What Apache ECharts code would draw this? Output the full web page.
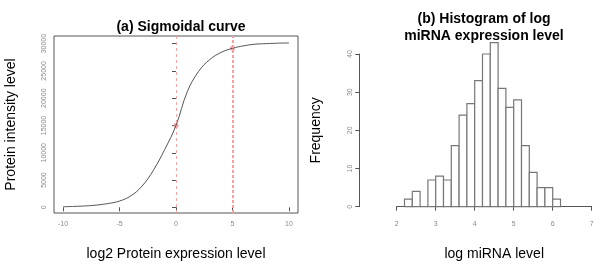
<!DOCTYPE html>
<html>
<head>
<meta charset="utf-8">
<script src="https://cdn.jsdelivr.net/npm/echarts@6/dist/echarts.min.js"></script>
<style>
  html, body { margin: 0; padding: 0; background: #fff; }
  #chart { width: 600px; height: 268px; }
</style>
</head>
<body>
<div id="chart"></div>
<script>
// (a) sigmoid curve
var sigX = [-10, -9, -8, -7, -6, -5, -4, -3, -2, -1, 0, 1, 2, 3, 4, 5, 6, 7, 8, 9, 10];
var sigY = [100, 170, 260, 420, 700, 1150, 2100, 3900, 6800, 10600, 15000, 21200, 24900, 27100, 28400, 29150, 29600, 29900, 30000, 30080, 30130];
var markX = [0, 5];
var markY = [15000, 29150];
var sigXTicks = [-10, -5, 0, 5, 10];
var sigYTicks = [0, 5000, 10000, 15000, 20000, 25000, 30000];

// (b) histogram, bins of width 0.2
var binStart = [2.2, 2.4, 2.6, 2.8, 3.0, 3.2, 3.4, 3.6, 3.8, 4.0, 4.2, 4.4, 4.6, 4.8, 5.0, 5.2, 5.4, 5.6, 5.8, 6.0];
var binCount = [2, 4, 0, 7, 8, 7, 16, 24, 27, 33, 40, 43, 31, 26, 28, 16, 9, 5, 5, 2];
var binWidth = 0.2;

var tickLabel = { color: '#8a8a8a', fontSize: 7, fontFamily: 'Liberation Sans, Arial, sans-serif' };
var titleFont = 'Liberation Sans, Arial, sans-serif';

var myChart = echarts.init(document.getElementById('chart'));

var sigData = sigX.map(function (x, i) { return [x, sigY[i]]; });
var markData = markX.map(function (x, i) { return [x, markY[i]]; });
var histData = binStart.map(function (x, i) { return [x, x + binWidth, binCount[i]]; });

option = {
  animation: false,
  backgroundColor: '#fff',
  title: [
    {
      text: '(a) Sigmoidal curve',
      left: 176, top: 15, textAlign: 'center',
      textStyle: { fontSize: 14, fontWeight: 'bold', color: '#000', fontFamily: titleFont }
    },
    {
      text: '(b) Histogram of log\nmiRNA expression level',
      left: 479, top: 6, textAlign: 'center',
      textStyle: { fontSize: 14, fontWeight: 'bold', color: '#000', fontFamily: titleFont, lineHeight: 17 }
    }
  ],
  grid: [
    { left: 54, right: 302, top: 36, bottom: 55, show: true, borderColor: '#555', borderWidth: 1, backgroundColor: 'transparent' },
    { left: 396.7, right: 8.3, top: 54, bottom: 61.3 }
  ],
  xAxis: [
    {
      gridIndex: 0, type: 'value', min: -10.8, max: 10.8,
      name: 'log2 Protein expression level', nameLocation: 'middle', nameGap: 34,
      nameTextStyle: { fontSize: 14, color: '#000', fontFamily: titleFont },
      axisLine: { show: false },
      axisTick: { show: true, length: 4, lineStyle: { color: '#555' }, customValues: sigXTicks },
      axisLabel: Object.assign({ margin: 8, customValues: sigXTicks }, tickLabel),
      splitLine: { show: false }
    },
    {
      gridIndex: 1, type: 'value', min: 2, max: 7, interval: 1, offset: 6.3,
      name: 'log miRNA level', nameLocation: 'middle', nameGap: 34,
      nameTextStyle: { fontSize: 14, color: '#000', fontFamily: titleFont },
      axisLine: { show: true, lineStyle: { color: '#555' } },
      axisTick: { show: true, length: 4, lineStyle: { color: '#555' } },
      axisLabel: Object.assign({ margin: 8 }, tickLabel),
      splitLine: { show: false }
    }
  ],
  yAxis: [
    {
      gridIndex: 0, type: 'value', min: -1040, max: 31400,
      name: 'Protein intensity level', nameLocation: 'middle', nameGap: 36,
      nameTextStyle: { fontSize: 14, color: '#000', fontFamily: titleFont },
      axisLine: { show: false },
      axisTick: { show: true, length: 4, lineStyle: { color: '#555' }, customValues: sigYTicks },
      axisLabel: Object.assign({ margin: 6, rotate: 90, customValues: sigYTicks,
        formatter: function (v) { return String(v); } }, tickLabel),
      splitLine: { show: false }
    },
    {
      gridIndex: 1, type: 'value', min: 0, max: 40, interval: 10, offset: 37.4,
      name: 'Frequency', nameLocation: 'middle', nameGap: 36,
      nameTextStyle: { fontSize: 14, color: '#000', fontFamily: titleFont },
      axisLine: { show: true, lineStyle: { color: '#555' } },
      axisTick: { show: true, length: 4, lineStyle: { color: '#555' } },
      axisLabel: Object.assign({ margin: 6, rotate: 90 }, tickLabel),
      splitLine: { show: false }
    }
  ],
  series: [
    {
      type: 'line', xAxisIndex: 0, yAxisIndex: 0,
      data: sigData, smooth: 0.4, showSymbol: false,
      lineStyle: { color: '#555', width: 1 },
      markLine: {
        silent: true, symbol: 'none', label: { show: false },
        data: [
          { xAxis: markX[0], lineStyle: { color: '#f4a6a6', width: 1, type: [3, 3] } },
          { xAxis: markX[1], lineStyle: { color: '#f4a0a0', width: 2, type: [3, 2] } }
        ]
      }
    },
    {
      type: 'scatter', xAxisIndex: 0, yAxisIndex: 0,
      data: markData, symbol: 'circle', symbolSize: 5,
      itemStyle: { color: '#f29090' }
    },
    {
      type: 'custom', xAxisIndex: 1, yAxisIndex: 1, clip: false,
      data: histData,
      renderItem: function (params, api) {
        var p0 = api.coord([api.value(0), 0]);
        var p1 = api.coord([api.value(1), api.value(2)]);
        return {
          type: 'rect',
          shape: { x: p0[0], y: p1[1], width: p1[0] - p0[0], height: p0[1] - p1[1] },
          style: { fill: '#fff', stroke: '#777', lineWidth: 1.2 }
        };
      }
    }
  ]
};
myChart.setOption(option);
</script>
</body>
</html>
